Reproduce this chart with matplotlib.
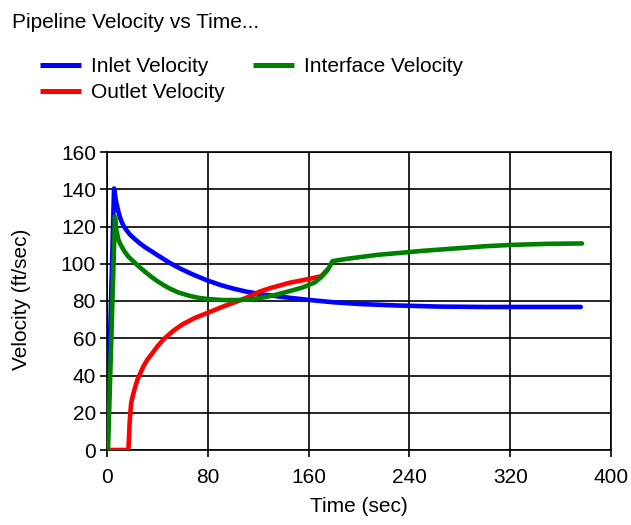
import numpy as np
import matplotlib
matplotlib.use("Agg")
import matplotlib.pyplot as plt

plt.rcParams['font.family'] = ['Liberation Sans', 'DejaVu Sans']

# values
inlet_t = [0, 5.6, 7, 9, 11, 13, 15.5, 18.3, 22, 26, 30, 35, 39.4, 45, 50, 55, 60, 65,
           70, 79.4, 90, 100, 110.8, 125, 140, 160, 180, 200, 230, 264, 300, 340, 376]
inlet_v = [0, 140.4, 134, 128, 123.5, 120.5, 118, 115.6, 113.3, 111, 109, 106.8, 104.9,
           102.5, 100.4, 98.5, 96.8, 95.2, 93.7, 91.1, 88.6, 86.7, 85, 83.4, 82.1, 80.6,
           79.3, 78.4, 77.6, 77, 76.8, 76.8, 76.8]

iface_t = [0, 0.8, 6.3, 7.5, 9, 11, 14, 17, 20.9, 25, 30, 35, 39.4, 45, 50, 57, 65.9, 72,
           79.4, 92, 105.6, 115, 125, 135, 145, 155, 165, 170, 175, 179, 190, 200, 215,
           232, 250, 264, 280, 300, 320, 350, 377]
iface_v = [0, 0, 125.3, 118, 113, 110, 106.5, 103.8, 101.3, 98.7, 95.8, 93.1, 90.9, 88.5,
           86.6, 84.5, 82.7, 81.8, 81.1, 80.5, 80.5, 81, 82, 83.5, 85.3, 87.2, 90, 92.8,
           96.5, 101.4, 102.6, 103.5, 104.8, 105.8, 106.9, 107.6, 108.4, 109.4, 110.1,
           110.7, 110.9]

outlet_t = [0, 17, 18, 19, 19.6, 22, 24, 26.2, 29, 32, 36, 39.4, 45, 52.6, 60, 70, 79.4,
            92, 105, 115, 121, 130, 145, 160, 170, 175]
outlet_v = [0, 0, 15, 24, 26.7, 33, 37.5, 40.9, 45, 48.5, 52, 55.1, 59.5, 64, 67.5, 71,
            73.5, 77, 80.2, 83, 85, 87, 89.8, 91.8, 93.3, 97]

x_ticks = [0, 80, 160, 240, 320, 400]
y_ticks = [0, 20, 40, 60, 80, 100, 120, 140, 160]

fig = plt.figure(figsize=(6.31, 5.25), dpi=100)
ax = fig.add_axes([107 / 631, 75 / 525, 504 / 631, 298 / 525])

lw = 3.3
l_in, = ax.plot(inlet_t, inlet_v, color='#0000ff', lw=lw, solid_capstyle='round',
                solid_joinstyle='round', label='Inlet Velocity', zorder=3)
l_out, = ax.plot(outlet_t, outlet_v, color='#ff0000', lw=lw, solid_capstyle='round',
                 solid_joinstyle='round', label='Outlet Velocity', zorder=4)
l_if, = ax.plot(iface_t, iface_v, color='#008000', lw=lw, solid_capstyle='round',
                solid_joinstyle='round', label='Interface Velocity', zorder=5)

ax.set_xlim(0, 400)
ax.set_ylim(0, 160)
ax.set_xticks(x_ticks)
ax.set_yticks(y_ticks)
ax.grid(True, color='black', lw=1.2)
ax.set_axisbelow(True)
for s in ax.spines.values():
    s.set_color('black')
    s.set_linewidth(1.2)
ax.tick_params(direction='out', length=5, width=1.2, labelsize=15, colors='black')
ax.tick_params(axis='x', pad=8)
ax.tick_params(axis='y', pad=3)

fig.text(359 / 631, 1 - 506 / 525, 'Time (sec)', ha='center', va='center', fontsize=15)
fig.text(22 / 631, 1 - 299 / 525, 'Velocity (ft/sec)', ha='center', va='center',
         rotation=90, fontsize=15)
fig.text(12 / 631, 1 - 22 / 525, 'Pipeline Velocity vs Time...', ha='left', va='center',
         fontsize=15)

leg = fig.legend(handles=[l_in, l_out, l_if], ncol=2, loc='upper left',
                 bbox_to_anchor=(40 / 631, 1 - 57 / 525), frameon=False, fontsize=15,
                 handlelength=1.95, handletextpad=0.5, columnspacing=1.35,
                 labelspacing=0.33, borderaxespad=0, borderpad=0)
for h in leg.get_lines():
    h.set_linewidth(3.6)
    h.set_solid_capstyle('butt')

fig.savefig('out.png', dpi=100)
